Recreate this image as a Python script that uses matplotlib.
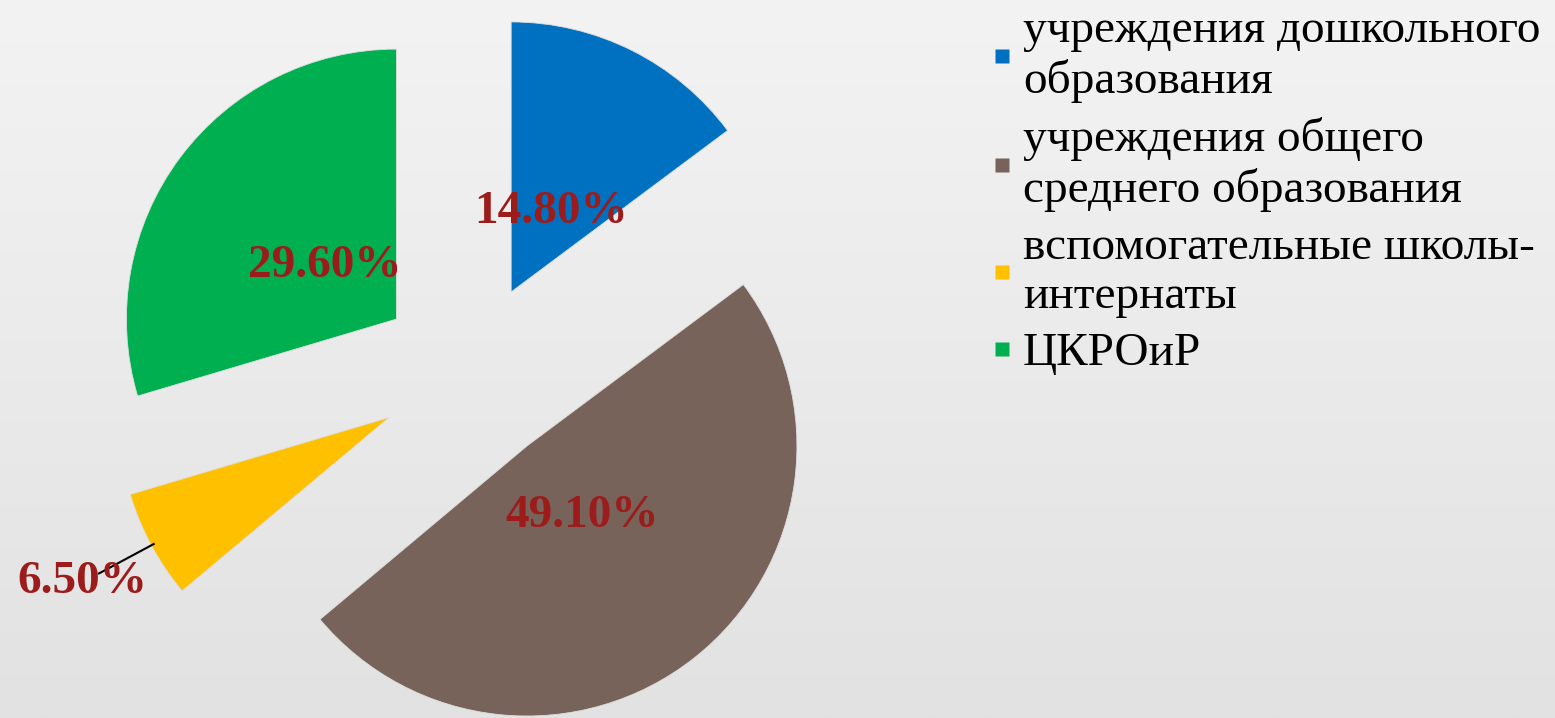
import numpy as np
import matplotlib.pyplot as plt
from matplotlib.lines import Line2D
from matplotlib.colors import LinearSegmentedColormap
from matplotlib.font_manager import FontProperties, findfont

categories = ['учреждения дошкольного\nобразования',
              'учреждения общего\nсреднего образования',
              'вспомогательные школы-\nинтернаты',
              'ЦКРОиР']
shares = [14.8, 49.1, 6.5, 29.6]
colors = ['#0070C0', '#776359', '#FFC000', '#00B050']

W, H = 1555, 718
R = 270            # pie radius, px
cx, cy = 470, 374  # pie centre, px from top-left
label_red = '#9c1c1c'

plt.rcParams['font.family'] = ['Liberation Serif', 'DejaVu Serif']
print(findfont(FontProperties(family='Liberation Serif')))

fig = plt.figure(figsize=(W / 100, H / 100), dpi=100)

# light gray gradient background
bg = fig.add_axes([0, 0, 1, 1], zorder=0)
grad = np.linspace(0, 1, 256).reshape(-1, 1)
bg.imshow(grad, aspect='auto', extent=[0, 1, 0, 1],
          cmap=LinearSegmentedColormap.from_list('bg', ['#f3f3f3', '#e2e2e2']))
bg.axis('off')

ax = fig.add_axes([0, 0, 1, 1], zorder=1)
ax.patch.set_alpha(0)
wedges, texts, autotexts = ax.pie(
    shares, colors=colors, startangle=90, counterclock=False,
    explode=[0.34] * len(shares),
    autopct=lambda p: f'{p:.2f}%' if p > 10 else '', pctdistance=0.33,
    wedgeprops=dict(edgecolor='#dddddd', linewidth=0.6),
    textprops=dict(fontsize=34, fontweight='bold', color=label_red))
ax.set_xlim(-cx / R, (W - cx) / R)
ax.set_ylim(-(H - cy) / R, cy / R)
ax.set_aspect('auto')

# small slice: label outside with a leader line
w = wedges[2]
th = np.deg2rad((w.theta1 + w.theta2) / 2)
ux, uy = np.cos(th), np.sin(th)
x0, y0 = w.center
ax.plot([x0 + 0.99 * ux, x0 + 1.22 * ux], [y0 + 0.99 * uy, y0 + 1.22 * uy],
        color='black', lw=1.5, zorder=3)
ax.text(x0 + 1.29 * ux, y0 + 1.29 * uy, f'{shares[2]:.2f}%', ha='center', va='center',
        fontsize=34, fontweight='bold', color=label_red, zorder=4)

handles = [Line2D([], [], marker='s', linestyle='none', markersize=10,
                  markerfacecolor=c, markeredgecolor='none') for c in colors]
ax.legend(handles, categories, loc='upper left',
          bbox_to_anchor=(990 / W, 1 - 10 / H), bbox_transform=fig.transFigure,
          frameon=False, fontsize=34,
          handlelength=0.5, handletextpad=0.2, labelspacing=0.3,
          borderpad=0, borderaxespad=0)

fig.savefig('out.png', dpi=100)
